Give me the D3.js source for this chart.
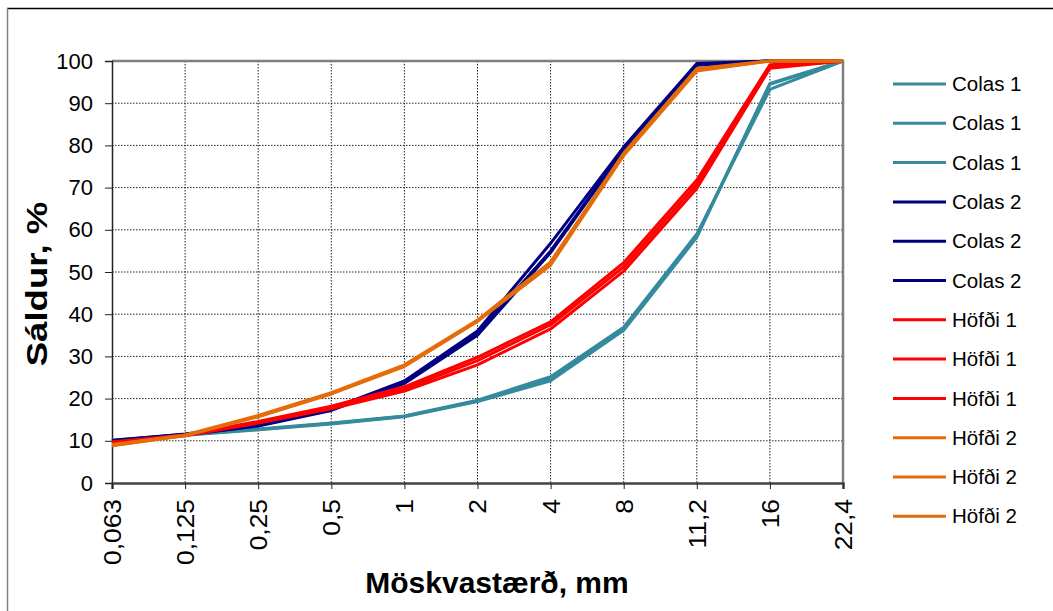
<!DOCTYPE html>
<html>
<head>
<meta charset="utf-8">
<script src="https://cdn.jsdelivr.net/npm/d3@7"></script>
<style>
  body { margin: 0; background: #fff; }
  svg { display: block; font-family: Arial, "Liberation Sans", sans-serif; }
</style>
</head>
<body>
<div id="chart"></div>
<script>
var w = 1053;
var h = 611;

// sieve sizes (x categories)
var sizes = ['0,063', '0,125', '0,25', '0,5', '1', '2', '4', '8', '11,2', '16', '22,4'];
var yTicks = [0, 10, 20, 30, 40, 50, 60, 70, 80, 90, 100];

// passing %, three samples per material
var colas1a = [10.2, 11.5, 12.8, 14.2, 15.9, 19.6, 25.2, 36.9, 59.0, 93.3, 100];
var colas1b = [10.1, 11.4, 12.7, 14.1, 15.8, 19.4, 24.6, 36.5, 58.5, 94.7, 100];
var colas1c = [10.0, 11.3, 12.6, 14.0, 15.7, 19.3, 24.2, 36.2, 58.2, 94.5, 100];

var colas2a = [10.1, 11.6, 13.8, 17.6, 24.2, 36.0, 56.8, 79.6, 99.4, 100, 100];
var colas2b = [10.0, 11.5, 13.6, 17.4, 23.8, 35.3, 55.0, 79.0, 99.2, 100, 100];
var colas2c = [9.9, 11.4, 13.5, 17.2, 23.6, 35.0, 54.6, 78.8, 99.0, 100, 100];

var hofdi1a = [9.7, 11.4, 14.6, 18.2, 22.8, 29.8, 38.2, 52.2, 71.8, 99.1, 100];
var hofdi1b = [9.6, 11.3, 14.4, 18.0, 22.3, 29.0, 37.5, 51.2, 70.8, 98.6, 100];
var hofdi1c = [9.5, 11.2, 14.2, 17.6, 21.8, 28.0, 36.5, 50.2, 69.8, 98.3, 100];

var hofdi2a = [9.1, 11.4, 16.0, 21.4, 28.0, 38.6, 52.4, 78.2, 98.2, 100, 100];
var hofdi2b = [8.9, 11.3, 15.8, 21.2, 27.8, 38.4, 52.0, 77.8, 97.8, 100, 100];
var hofdi2c = [8.8, 11.2, 15.7, 21.1, 27.6, 38.3, 51.6, 77.6, 97.6, 100, 100];

var seriesNames = ['Colas 1', 'Colas 1', 'Colas 1', 'Colas 2', 'Colas 2', 'Colas 2',
  'Höfði 1', 'Höfði 1', 'Höfði 1', 'Höfði 2', 'Höfði 2', 'Höfði 2'];
var seriesValues = [colas1a, colas1b, colas1c, colas2a, colas2b, colas2c,
  hofdi1a, hofdi1b, hofdi1c, hofdi2a, hofdi2b, hofdi2c];

var colorOf = {
  'Colas 1': '#368a9e',
  'Colas 2': '#000080',
  'Höfði 1': '#ff0000',
  'Höfði 2': '#e46c0a'
};

var plot = { left: 112, top: 61, right: 843, bottom: 483 };

var svg = d3.select('#chart')
  .append('svg')
  .attr('width', w)
  .attr('height', h);

// outer chart frame (only top & left show)
svg.append('line')
  .attr('x1', 7).attr('x2', w).attr('y1', 8.5).attr('y2', 8.5)
  .attr('stroke', '#000').attr('stroke-width', 1.5);
svg.append('line')
  .attr('x1', 7.5).attr('x2', 7.5).attr('y1', 8).attr('y2', h)
  .attr('stroke', '#808080').attr('stroke-width', 1.5);

var x = d3.scalePoint()
  .domain(sizes)
  .range([plot.left, plot.right])
  .padding(0);

var y = d3.scaleLinear()
  .domain([0, 100])
  .range([plot.bottom, plot.top]);

// grid
svg.append('g')
  .selectAll('line')
  .data(yTicks.slice(1, -1))
  .enter()
  .append('line')
  .attr('x1', plot.left).attr('x2', plot.right)
  .attr('y1', d => y(d)).attr('y2', d => y(d))
  .attr('stroke', '#222')
  .attr('stroke-width', 1)
  .attr('stroke-dasharray', '1.5,1.5');

svg.append('g')
  .selectAll('line')
  .data(sizes.slice(1, -1))
  .enter()
  .append('line')
  .attr('x1', d => x(d)).attr('x2', d => x(d))
  .attr('y1', plot.top).attr('y2', plot.bottom)
  .attr('stroke', '#222')
  .attr('stroke-width', 1)
  .attr('stroke-dasharray', '1.5,1.5');

// plot area border top/right
svg.append('path')
  .attr('d', `M${plot.left},${plot.top}H${plot.right}V${plot.bottom}`)
  .attr('fill', 'none')
  .attr('stroke', '#808080')
  .attr('stroke-width', 2.5);

// axes
var yAxis = d3.axisLeft(y)
  .tickValues(yTicks)
  .tickSize(7)
  .tickPadding(12);

var gy = svg.append('g')
  .attr('transform', `translate(${plot.left},0)`)
  .call(yAxis);
gy.select('.domain').attr('stroke', '#222').attr('stroke-width', 1.5);
gy.selectAll('.tick line').attr('stroke', '#222');
gy.selectAll('text')
  .style('font-size', '22px')
  .style('font-family', 'Arial, "Liberation Sans", sans-serif')
  .attr('fill', '#000');

var xAxis = d3.axisBottom(x)
  .tickSize(6)
  .tickPadding(0);

var gx = svg.append('g')
  .attr('transform', `translate(0,${plot.bottom})`)
  .call(xAxis);
gx.select('.domain').attr('stroke', '#444').attr('stroke-width', 2.5);
gx.selectAll('.tick line').attr('stroke', '#222');
gx.selectAll('text')
  .style('font-size', '24px')
  .style('font-family', 'Arial, "Liberation Sans", sans-serif')
  .attr('fill', '#000')
  .attr('text-anchor', 'end')
  .attr('transform', 'translate(0,16) rotate(-90) scale(1.1,1)')
  .attr('x', 0)
  .attr('y', 0)
  .attr('dy', '0.35em');

// lines
var line = d3.line()
  .x((d, i) => x(sizes[i]))
  .y(d => y(d));

svg.append('g')
  .selectAll('path')
  .data(seriesValues)
  .enter()
  .append('path')
  .attr('d', line)
  .attr('fill', 'none')
  .attr('stroke', (d, i) => colorOf[seriesNames[i]])
  .attr('stroke-width', 3)
  .attr('stroke-linejoin', 'round');

// legend
var legend = svg.append('g')
  .selectAll('g')
  .data(seriesNames)
  .enter()
  .append('g')
  .attr('transform', (d, i) => `translate(893,${84 + i * 39.3})`);

legend.append('line')
  .attr('x1', 0).attr('x2', 53)
  .attr('y1', 0).attr('y2', 0)
  .attr('stroke', d => colorOf[d])
  .attr('stroke-width', 3);

legend.append('text')
  .attr('x', 59)
  .attr('dy', '0.35em')
  .style('font-size', '20.5px')
  .text(d => d);

// titles
svg.append('text')
  .attr('transform', 'translate(47,284) rotate(-90) scale(1.22,1)')
  .attr('text-anchor', 'middle')
  .style('font-size', '30px')
  .style('font-weight', 'bold')
  .text('Sáldur, %');

svg.append('text')
  .attr('x', 497)
  .attr('y', 593)
  .attr('text-anchor', 'middle')
  .style('font-size', '30px')
  .style('font-weight', 'bold')
  .text('Möskvastærð, mm');
</script>
</body>
</html>
